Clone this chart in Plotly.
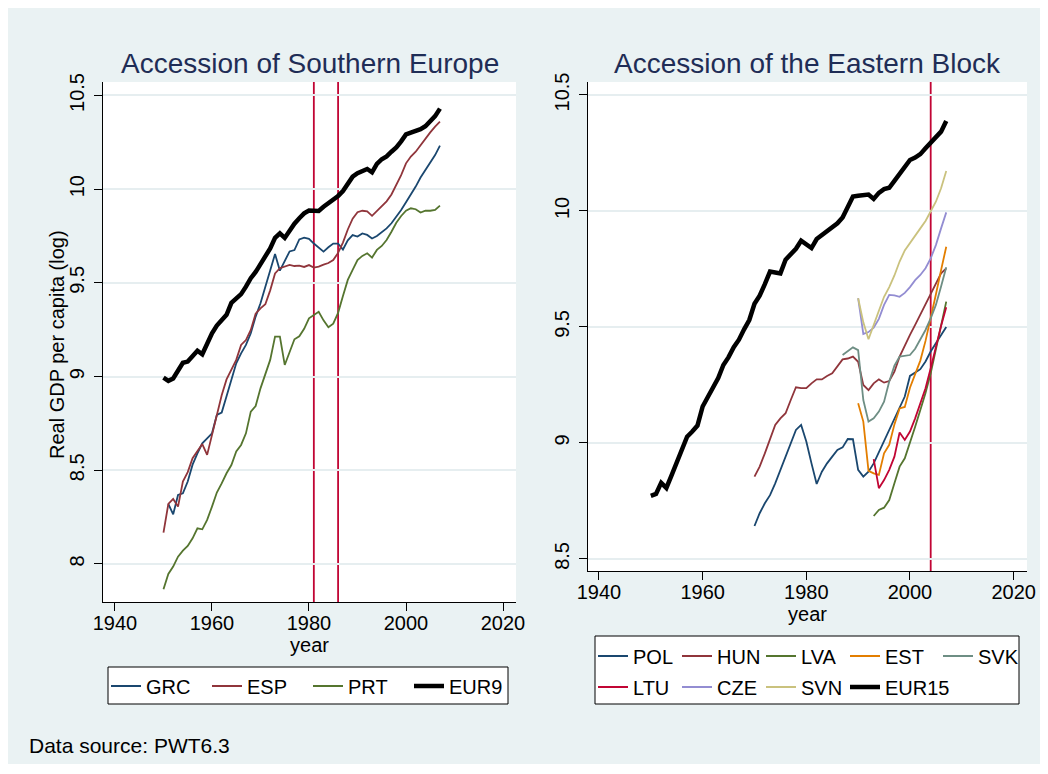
import plotly.graph_objects as go

# ---------------- data ----------------
years_1950 = list(range(1950, 2008))
years_1951 = list(range(1951, 2008))
years_1970 = list(range(1970, 2008))
years_1987 = list(range(1987, 2008))
years_1990 = list(range(1990, 2008))
years_1993 = list(range(1993, 2008))

grc = [8.320, 8.265, 8.368, 8.377, 8.440, 8.530, 8.590, 8.644, 8.670,
       8.697, 8.795, 8.808, 8.895, 8.985, 9.071, 9.124, 9.169, 9.231, 9.320,
       9.391, 9.480, 9.570, 9.654, 9.565, 9.615, 9.668, 9.675, 9.732, 9.741,
       9.735, 9.710, 9.688, 9.667, 9.690, 9.710, 9.710, 9.678, 9.727, 9.755,
       9.747, 9.764, 9.756, 9.737, 9.750, 9.770, 9.791, 9.818, 9.853, 9.889,
       9.930, 9.969, 10.014, 10.062, 10.102, 10.138, 10.182, 10.232]
esp = [8.167, 8.320, 8.347, 8.306, 8.440, 8.490, 8.564, 8.600, 8.640, 8.582,
       8.690, 8.800, 8.900, 8.985, 9.040, 9.089, 9.169, 9.195, 9.249, 9.336,
       9.364, 9.386, 9.460, 9.550, 9.578, 9.585, 9.596, 9.590, 9.592, 9.585,
       9.595, 9.582, 9.587, 9.597, 9.606, 9.622, 9.660, 9.715, 9.785, 9.843,
       9.877, 9.885, 9.882, 9.858, 9.885, 9.912, 9.935, 9.972, 10.020, 10.075,
       10.138, 10.174, 10.200, 10.236, 10.268, 10.303, 10.334, 10.360]
prt = [7.865, 7.947, 7.986, 8.039, 8.071, 8.096, 8.137, 8.190, 8.185, 8.235,
       8.306, 8.381, 8.430, 8.484, 8.528, 8.600, 8.635, 8.697, 8.813, 8.843,
       8.937, 9.009, 9.089, 9.213, 9.213, 9.062, 9.133, 9.199, 9.215, 9.255,
       9.311, 9.329, 9.346, 9.300, 9.263, 9.282, 9.340, 9.430, 9.516, 9.569,
       9.622, 9.644, 9.658, 9.635, 9.676, 9.697, 9.729, 9.773, 9.821, 9.857,
       9.885, 9.898, 9.893, 9.875, 9.885, 9.885, 9.889, 9.912]
eur9 = [8.994, 8.977, 8.990, 9.035, 9.074, 9.080, 9.108, 9.138, 9.119, 9.178,
        9.231, 9.272, 9.300, 9.330, 9.393, 9.420, 9.440, 9.480, 9.525, 9.558,
        9.600, 9.632, 9.684, 9.740, 9.764, 9.740, 9.782, 9.816, 9.845, 9.871,
        9.886, 9.885, 9.884, 9.906, 9.926, 9.942, 9.964, 9.990, 10.031, 10.067,
        10.085, 10.095, 10.108, 10.090, 10.135, 10.160, 10.175, 10.200, 10.223,
        10.255, 10.292, 10.302, 10.310, 10.320, 10.336, 10.362, 10.390, 10.430]

pol = [8.642, 8.697, 8.740, 8.775, 8.826, 8.884, 8.948, 9.006, 9.056, 9.078,
       9.006, 8.912, 8.823, 8.876, 8.912, 8.941, 8.970, 8.981, 9.017, 9.016,
       8.884, 8.855, 8.876, 8.912, 8.960, 9.006, 9.056, 9.106, 9.157, 9.200,
       9.289, 9.303, 9.318, 9.351, 9.394, 9.430, 9.465, 9.500]
hun = [8.855, 8.898, 8.955, 9.013, 9.078, 9.106, 9.128, 9.185, 9.240, 9.236,
       9.236, 9.257, 9.274, 9.274, 9.289, 9.300, 9.329, 9.360, 9.364, 9.372,
       9.350, 9.250, 9.228, 9.257, 9.274, 9.260, 9.267, 9.307, 9.372, 9.422,
       9.466, 9.509, 9.552, 9.595, 9.645, 9.688, 9.731, 9.753]
lva = [8.685, 8.711, 8.721, 8.754, 8.826, 8.898, 8.934, 8.999, 9.070, 9.142,
       9.215, 9.300, 9.400, 9.510, 9.609]
est = [9.171, 9.092, 8.880, 8.869, 8.862, 8.955, 8.992, 9.080, 9.149, 9.155,
       9.238, 9.293, 9.355, 9.440, 9.535, 9.640, 9.745, 9.846]
svk = [9.379, 9.394, 9.412, 9.400, 9.185, 9.092, 9.106, 9.135, 9.178, 9.265,
       9.333, 9.372, 9.374, 9.379, 9.406, 9.447, 9.487, 9.537, 9.595, 9.674,
       9.757]
ltu = [8.930, 8.805, 8.840, 8.884, 8.941, 9.045, 9.013, 9.049, 9.106, 9.168,
       9.236, 9.322, 9.415, 9.504, 9.585]
cze = [9.624, 9.470, 9.478, 9.497, 9.535, 9.595, 9.638, 9.636, 9.630, 9.647,
       9.672, 9.702, 9.724, 9.753, 9.796, 9.853, 9.925, 9.994]
svn = [9.624, 9.520, 9.447, 9.505, 9.570, 9.630, 9.672, 9.722, 9.782, 9.830,
       9.861, 9.889, 9.925, 9.957, 9.997, 10.040, 10.098, 10.172]
eur15 = [8.772, 8.780, 8.828, 8.806, 8.860, 8.912, 8.963, 9.027, 9.049, 9.075,
         9.157, 9.200, 9.240, 9.280, 9.336, 9.370, 9.413, 9.445, 9.490, 9.530,
         9.600, 9.635, 9.685, 9.739, 9.735, 9.731, 9.790, 9.815, 9.837, 9.872,
         9.853, 9.840, 9.879, 9.897, 9.911, 9.927, 9.947, 9.972, 10.018, 10.062,
         10.066, 10.068, 10.071, 10.052, 10.078, 10.094, 10.100, 10.130, 10.158,
         10.188, 10.220, 10.230, 10.245, 10.270, 10.292, 10.315, 10.342, 10.388]

accession_south = [1981, 1986]
accession_east = [2004]

x_ticks = [1940, 1960, 1980, 2000, 2020]
y_ticks_left = [8, 8.5, 9, 9.5, 10, 10.5]
y_ticks_right = [8.5, 9, 9.5, 10, 10.5]
y_labels_left = ["8", "8.5", "9", "9.5", "10", "10.5"]
y_labels_right = ["8.5", "9", "9.5", "10", "10.5"]

# ---------------- styling ----------------
# the figure sits at (8, 8) in the page (default body margin)
OFF = 8
W, H = 1032, 756
FONT = "Liberation Sans, Arial, Helvetica, sans-serif"
BG = "#eaf2f3"
GRID = "#e6eef0"
C = {"navy": "#1a476f", "maroon": "#90353b", "green": "#55752f",
     "orange": "#e37e00", "teal": "#6e8e84", "cran": "#c10534",
     "lav": "#938dd2", "khaki": "#cac27e", "black": "#000000"}


def fx(p):
    return (p - OFF) / W


def fy(p):
    return 1 - (p - OFF) / H


fig = go.Figure()

left = [("GRC", years_1951, grc, C["navy"], 1.8, 56),
        ("ESP", years_1950, esp, C["maroon"], 1.8, 56),
        ("PRT", years_1950, prt, C["green"], 1.8, 56),
        ("EUR9", years_1950, eur9, C["black"], 4.5, 60)]
for name, xs, ys, col, w, lw in left:
    fig.add_trace(go.Scatter(x=xs, y=ys, name=name, mode="lines",
                             line=dict(color=col, width=w),
                             xaxis="x", yaxis="y", legend="legend",
                             legendwidth=lw))

row1 = [("POL", years_1970, pol, C["navy"], 1.8, 39),
        ("HUN", years_1970, hun, C["maroon"], 1.8, 39),
        ("LVA", years_1993, lva, C["green"], 1.8, 39),
        ("EST", years_1990, est, C["orange"], 1.8, 48),
        ("SVK", years_1987, svk, C["teal"], 1.8, 45)]
row2 = [("LTU", years_1993, ltu, C["cran"], 1.8, 39),
        ("CZE", years_1990, cze, C["lav"], 1.8, 39),
        ("SVN", years_1990, svn, C["khaki"], 1.8, 39),
        ("EUR15", years_1950, eur15, C["black"], 4.5, 70)]
for lg, rows in (("legend2", row1), ("legend3", row2)):
    for name, xs, ys, col, w, lw in rows:
        fig.add_trace(go.Scatter(x=xs, y=ys, name=name, mode="lines",
                                 line=dict(color=col, width=w),
                                 xaxis="x2", yaxis="y2", legend=lg,
                                 legendwidth=lw))

axis_common = dict(showline=True, linecolor="black", linewidth=1,
                   ticks="outside", ticklen=8, tickwidth=1, tickcolor="black",
                   zeroline=False, automargin=False,
                   tickfont=dict(size=20, color="black"),
                   title_font=dict(size=20, color="black"))

fig.update_layout(
    width=W, height=H,
    margin=dict(l=0, r=0, t=0, b=0, autoexpand=False),
    paper_bgcolor=BG, plot_bgcolor="white",
    font=dict(family=FONT, color="black"),
    xaxis=dict(domain=[fx(103), fx(516)], range=[1937.53, 2022.68],
               tickvals=x_ticks, showgrid=False, anchor="y",
               ticklabelstandoff=-5,
               title=dict(text="year", standoff=2), **axis_common),
    yaxis=dict(domain=[fy(602), fy(82)], range=[7.797, 10.572],
               tickvals=y_ticks_left, ticktext=y_labels_left, tickangle=-90,
               ticklabelstandoff=2,
               showgrid=True, gridcolor=GRID, gridwidth=1.5, anchor="x",
               **axis_common),
    xaxis2=dict(domain=[fx(588), fx(1027)], range=[1937.88, 2022.58],
                tickvals=x_ticks, showgrid=False, anchor="y2",
                ticklabelstandoff=-5,
                title=dict(text="year", standoff=2), **axis_common),
    yaxis2=dict(domain=[fy(571), fy(82)], range=[8.448, 10.556],
                tickvals=y_ticks_right, ticktext=y_labels_right, tickangle=-90,
                ticklabelstandoff=2,
                showgrid=True, gridcolor=GRID, gridwidth=1.5, anchor="x2",
                **axis_common),
    legend=dict(orientation="h", x=fx(106), xanchor="left", y=fy(686),
                yanchor="middle", entrywidth=56, entrywidthmode="pixels",
                bgcolor="rgba(0,0,0,0)", borderwidth=0,
                font=dict(size=20, color="black")),
    legend2=dict(orientation="h", x=fx(593), xanchor="left", y=fy(656),
                 yanchor="middle", entrywidth=39, entrywidthmode="pixels",
                 bgcolor="rgba(0,0,0,0)", borderwidth=0,
                 font=dict(size=20, color="black")),
    legend3=dict(orientation="h", x=fx(593), xanchor="left", y=fy(687),
                 yanchor="middle", entrywidth=39, entrywidthmode="pixels",
                 bgcolor="rgba(0,0,0,0)", borderwidth=0,
                 font=dict(size=20, color="black")),
    showlegend=True,
)

shapes = []
# legend boxes
for x0, y0, x1, y1 in [(108, 667, 508, 704), (595, 636, 1019, 704)]:
    shapes.append(dict(type="rect", xref="paper", yref="paper",
                       x0=fx(x0), x1=fx(x1), y0=fy(y1), y1=fy(y0),
                       fillcolor="white", line=dict(color="black", width=1),
                       layer="below"))
# accession lines
for yr in accession_south:
    shapes.append(dict(type="line", xref="x", yref="y domain", x0=yr, x1=yr,
                       y0=0, y1=1, line=dict(color=C["cran"], width=1.8),
                       layer="below"))
for yr in accession_east:
    shapes.append(dict(type="line", xref="x2", yref="y2 domain", x0=yr, x1=yr,
                       y0=0, y1=1, line=dict(color=C["cran"], width=1.8),
                       layer="below"))
fig.update_layout(shapes=shapes)

annotations = [
    dict(text="Accession of Southern Europe", x=fx(309.5), y=fy(63),
         xref="paper", yref="paper", xanchor="center", yanchor="middle",
         showarrow=False, font=dict(size=28, color="#1f2d56")),
    dict(text="Accession of the Eastern Block", x=fx(807.5), y=fy(63),
         xref="paper", yref="paper", xanchor="center", yanchor="middle",
         showarrow=False, font=dict(size=28, color="#1f2d56")),
    dict(text="Real GDP per capita (log)", x=fx(57), y=fy(345),
         xref="paper", yref="paper", xanchor="center", yanchor="middle",
         textangle=-90, showarrow=False, font=dict(size=20, color="black")),
    dict(text="Data source: PWT6.3", x=fx(27), y=fy(745),
         xref="paper", yref="paper", xanchor="left", yanchor="middle",
         showarrow=False, font=dict(size=21, color="black")),
]
fig.update_layout(annotations=annotations)

fig.write_html("out.html")
